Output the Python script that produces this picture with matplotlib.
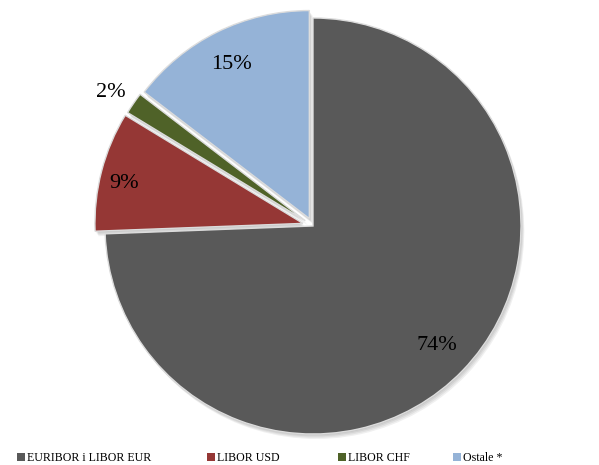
import numpy as np
import matplotlib
matplotlib.use("Agg")
import matplotlib.pyplot as plt
from matplotlib.patches import Wedge, Patch

categories = ["EURIBOR i LIBOR EUR", "LIBOR USD", "LIBOR CHF", "Ostale *"]
values = [74.4, 9.3, 1.7, 14.6]
colors = ["#595959", "#953735", "#4f6228", "#95b3d7"]
explode = [0.0, 0.05, 0.045, 0.04]

W, H = 599, 465
fig = plt.figure(figsize=(W / 100, H / 100), dpi=100)
cx, cy, R = 313, 465 - 226, 208
lim = 1.1
half = lim * R
ax = fig.add_axes([(cx - half) / W, (cy - half) / H, 2 * half / W, 2 * half / H])

wedges = ax.pie(
    values, colors=colors, explode=explode, startangle=90, counterclock=False,
    wedgeprops=dict(edgecolor="#dcdcdc", linewidth=1.0),
)[0]

# soft shadows
for w in wedges:
    for k in range(1, 5):
        s = Wedge((w.center[0] + 0.004 * k, w.center[1] - 0.006 * k), w.r,
                  w.theta1, w.theta2, facecolor="black", edgecolor="none",
                  alpha=0.06, zorder=w.get_zorder() - 0.5)
        ax.add_patch(s)

# percentage labels
total = sum(values)
label_r = [0.83, 0.88, 1.12, 0.83]
label_dang = [0.0, 2.0, 1.0, 0.5]
for w, v, lr, da in zip(wedges, values, label_r, label_dang):
    mid = np.deg2rad((w.theta1 + w.theta2) / 2 + da)
    x = w.center[0] + lr * np.cos(mid)
    y = w.center[1] + lr * np.sin(mid)
    ax.text(x, y, f"{100 * v / total:.0f}%", ha="center", va="center", fontsize=16,
            family="Liberation Serif", color="black")

ax.set_xlim(-lim, lim)
ax.set_ylim(-lim, lim)
ax.set_aspect("equal")
ax.axis("off")

# legend entries at Excel positions
leg_x = [17, 207, 338, 453]
for cat, col, lx in zip(categories, colors, leg_x):
    fig.legend(handles=[Patch(facecolor=col, edgecolor="none", label=cat)],
               loc="center left", bbox_to_anchor=(lx / W, 1 - 458 / H),
               frameon=False, borderpad=0, borderaxespad=0,
               handlelength=0.65, handleheight=0.65, handletextpad=0.2,
               prop=dict(family="Liberation Serif", size=8.6))

fig.savefig("out.png", dpi=100)
